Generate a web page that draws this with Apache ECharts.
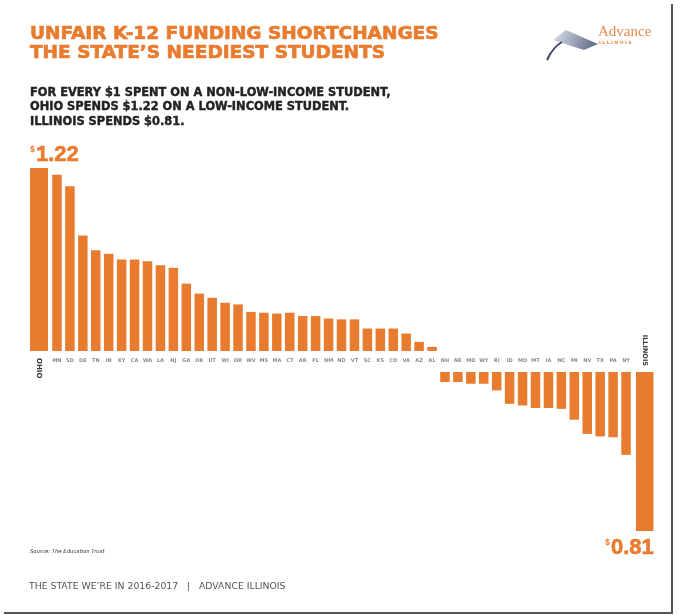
<!DOCTYPE html>
<html>
<head>
<meta charset="utf-8">
<script src="https://cdn.jsdelivr.net/npm/echarts@6/dist/echarts.min.js"></script>
<style>
  html, body { margin: 0; padding: 0; background: #fff; }
  #root { width: 681px; height: 615px; }
</style>
</head>
<body>
<div id="root"></div>
<script>
// states in chart order, most progressive first
var states = ['OHIO','MN','SD','DE','TN','IN','KY','CA','WA','LA','NJ','GA','OK','UT','WI','OR','WV','MS','MA','CT',
  'AR','FL','NM','ND','VT','SC','KS','CO','VA','AZ','AL','NH','NE','MD','WY','RI','ID','MO','MT','IA',
  'NC','MI','NV','TX','PA','NY','ILLINOIS']
// dollars spent on a low-income student for every $1 spent on a non-low-income student
var spending = [1.22,1.212,1.198,1.139,1.121,1.117,1.110,1.110,1.108,1.103,1.100,1.081,1.069,1.064,1.058,1.056,1.047,1.046,1.045,1.046,
  1.042,1.042,1.039,1.038,1.038,1.027,1.027,1.027,1.021,1.011,1.005,0.988,0.988,0.986,0.986,0.978,0.962,0.960,0.957,0.957,
  0.956,0.943,0.926,0.923,0.922,0.901,0.81]
// the two states called out with big labels (first and last)
var highlighted = ['OHIO', 'ILLINOIS']

var orange = '#E97B2F'
var font = 'DejaVu Sans'

var chart = echarts.init(document.getElementById('root'))

// bars are drawn as the gap from $1
function valueOf(s) { return +(spending[states.indexOf(s)] - 1).toFixed(3) }
var middle = states.filter(function (s) { return highlighted.indexOf(s) < 0 })
var above = middle.map(function (s) { var d = valueOf(s); return d > 0 ? d : '-' })
var below = middle.map(function (s) { var d = valueOf(s); return d < 0 ? d : '-' })

function bigLabel(p) {
  return '{s|$}{v|' + (1 + p.value).toFixed(2) + '}'
}
var bigRich = {
  s: { fontSize: 9, fontWeight: 'bold', color: orange, fontFamily: 'Liberation Sans', padding: [0, 1, 10, 0] },
  v: { fontSize: 22, fontWeight: 'bold', color: orange, fontFamily: 'Liberation Sans', textBorderColor: orange, textBorderWidth: 0.6 }
}

function catAxis(grid, data, show) {
  return {
    type: 'category', gridIndex: grid, data: data, show: show,
    axisLine: { show: false }, axisTick: { show: false },
    axisLabel: { show: show, interval: 0, margin: 7, fontSize: 5, fontWeight: 'bold', color: '#8a8a8a', fontFamily: font }
  }
}
function valAxis(grid, min, max) {
  return { type: 'value', gridIndex: grid, min: min, max: max, show: false, splitLine: { show: false } }
}

var option = {
  backgroundColor: '#fff',
  animation: false,
  title: {
    text: 'UNFAIR K-12 FUNDING SHORTCHANGES\nTHE STATE\u2019S NEEDIEST STUDENTS',
    subtext: 'FOR EVERY $1 SPENT ON A NON-LOW-INCOME STUDENT,\nOHIO SPENDS $1.22 ON A LOW-INCOME STUDENT.\nILLINOIS SPENDS $0.81.',
    left: 25, top: 20, itemGap: 22,
    textStyle: { color: orange, fontSize: 18.5, fontWeight: 'bold', fontFamily: font, lineHeight: 19, textBorderColor: orange, textBorderWidth: 0.7 },
    subtextStyle: { color: '#222', fontSize: 11.4, fontWeight: 'bold', fontFamily: font, lineHeight: 14.5, textBorderColor: '#222', textBorderWidth: 0.4 }
  },
  grid: [
    { left: 50.5, right: 48.5, top: 168, height: 183 },
    { left: 50.5, right: 48.5, top: 372, height: 159 },
    { left: 30, width: 18, top: 168, height: 183 },
    { left: 636, width: 17.5, top: 372, height: 159 }
  ],
  xAxis: [
    catAxis(0, middle, true),
    catAxis(1, middle, false),
    catAxis(2, [highlighted[0]], false),
    catAxis(3, [highlighted[1]], false)
  ],
  yAxis: [valAxis(0, 0, 0.22), valAxis(1, -0.19, 0), valAxis(2, 0, 0.22), valAxis(3, -0.19, 0)],
  series: [
    { type: 'bar', xAxisIndex: 0, yAxisIndex: 0, barWidth: 9.5, itemStyle: { color: orange }, data: above },
    { type: 'bar', xAxisIndex: 1, yAxisIndex: 1, barWidth: 9.5, itemStyle: { color: orange }, data: below },
    {
      type: 'bar', xAxisIndex: 2, yAxisIndex: 2, barWidth: '100%', itemStyle: { color: orange }, data: [valueOf(highlighted[0])],
      label: { show: true, position: 'top', align: 'left', offset: [-9, 3], formatter: bigLabel, rich: bigRich }
    },
    {
      type: 'bar', xAxisIndex: 3, yAxisIndex: 3, barWidth: '100%', itemStyle: { color: orange }, data: [valueOf(highlighted[1])],
      label: { show: true, position: 'bottom', align: 'right', offset: [9, 1], formatter: bigLabel, rich: bigRich }
    }
  ],
  graphic: [
    // frame shadow on right and bottom
    { type: 'line', id: 'frameR', shape: { x1: 672, y1: 4, x2: 672, y2: 613 }, style: { stroke: '#555', lineWidth: 2 } },
    { type: 'line', id: 'frameB', shape: { x1: 4, y1: 613, x2: 673, y2: 613 }, style: { stroke: '#555', lineWidth: 2 } },
    // logo
    {
      type: 'polygon', id: 'cap', shape: { points: [[566, 30], [598, 44], [584, 50], [553, 40]] },
      style: { fill: new echarts.graphic.LinearGradient(0, 0, 1, 1, [{ offset: 0, color: '#dfe3ee' }, { offset: 1, color: '#55617f' }]) }
    },
    {
      type: 'bezierCurve', id: 'tail', shape: { x1: 562, y1: 42, cpx1: 553, cpy1: 47, x2: 547, y2: 60 },
      style: { stroke: '#3a4566', lineWidth: 2, fill: null }
    },
    { type: 'text', id: 'adv', x: 598, y: 32, style: { text: 'Advance', fill: '#e8894a', font: '15px "Liberation Serif"', verticalAlign: 'middle' } },
    { type: 'text', id: 'ill', x: 599, y: 43, style: { text: 'I L L I N O I S', fill: '#e8894a', font: 'bold 4.5px "DejaVu Sans"', verticalAlign: 'middle' } },
    // source & footer
    { type: 'text', id: 'src', x: 30, y: 552, style: { text: 'Source: The Education Trust', fill: '#333', font: 'italic 5.3px "DejaVu Sans"', verticalAlign: 'middle' } },
    { type: 'text', id: 'foot', x: 29, y: 587, style: { text: 'THE STATE WE\u2019RE IN 2016-2017   |   ADVANCE ILLINOIS', fill: '#555', font: '9.3px "DejaVu Sans"', verticalAlign: 'middle' } }
  ]
}

chart.setOption(option)

// rotated names for the two called-out states, placed from their axes
var ohioX = chart.convertToPixel({ xAxisIndex: 2 }, highlighted[0])
var topBase = chart.convertToPixel({ yAxisIndex: 2 }, 0)
var illX = chart.convertToPixel({ xAxisIndex: 3 }, highlighted[1])
var lowBase = chart.convertToPixel({ yAxisIndex: 3 }, 0)
chart.setOption({
  graphic: [
    { type: 'text', id: 'ohioName', x: ohioX, y: topBase + 7, rotation: -Math.PI / 2,
      style: { text: highlighted[0], fill: '#333', font: 'bold 7px "DejaVu Sans"', align: 'left', verticalAlign: 'middle' } },
    { type: 'text', id: 'illName', x: illX, y: lowBase - 6, rotation: -Math.PI / 2,
      style: { text: highlighted[1], fill: '#333', font: 'bold 6.5px "DejaVu Sans"', align: 'right', verticalAlign: 'middle' } }
  ]
})
</script>
</body>
</html>
